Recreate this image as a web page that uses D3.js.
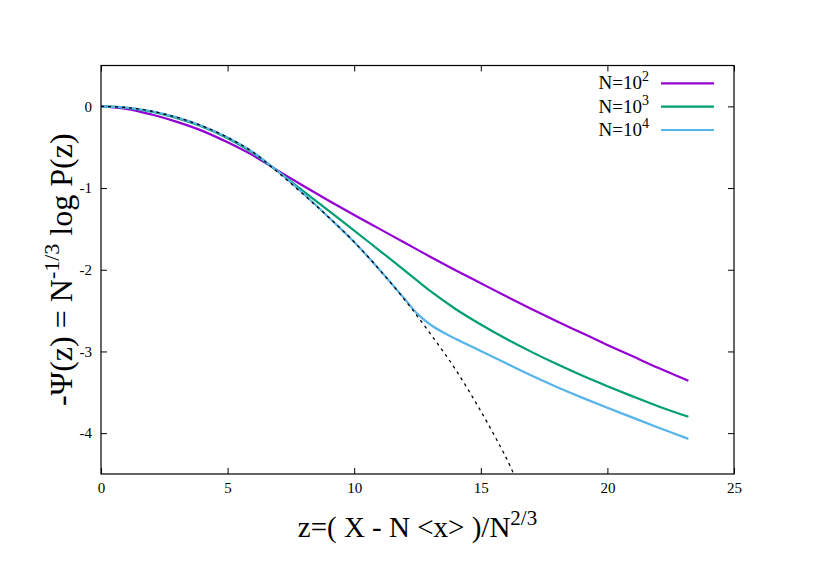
<!DOCTYPE html>
<html>
<head>
<meta charset="utf-8">
<script src="https://cdn.jsdelivr.net/npm/d3@7"></script>
<style>
  html, body { margin: 0; padding: 0; background: #fff; }
  svg { display: block; font-family: "Liberation Serif", "Times New Roman", serif; }
</style>
</head>
<body>
<svg id="chart" width="830" height="587"></svg>
<script>
// ---------- data ----------
const xTicks = [0, 5, 10, 15, 20, 25];
const yTicks = [0, -1, -2, -3, -4];

const zN2 = [0, 1, 2, 3, 4, 5, 6, 7, 8, 9, 10, 11, 12, 13, 14, 15, 16, 17, 18, 19, 20, 21, 22, 23.2];
const psiN2 = [0, -0.03, -0.10, -0.19, -0.30, -0.44, -0.60, -0.79, -0.975, -1.155, -1.33, -1.50, -1.67, -1.84, -2.005, -2.165, -2.325, -2.48, -2.63, -2.775, -2.92, -3.06, -3.20, -3.36];

const zN3 = [0, 1, 2, 3, 4, 5, 6, 7, 8, 9, 10, 11, 12, 13, 14, 15, 16, 17, 18, 19, 20, 21, 22, 23.2];
const psiN3 = [0, -0.017, -0.065, -0.145, -0.25, -0.39, -0.57, -0.80, -1.04, -1.28, -1.52, -1.765, -2.01, -2.26, -2.48, -2.67, -2.845, -3.005, -3.155, -3.295, -3.425, -3.55, -3.67, -3.80];

const zN4 = [0, 1, 2, 3, 4, 5, 6, 7, 8, 9, 10, 11, 12, 12.5, 13, 13.5, 14, 15, 16, 17, 18, 19, 20, 21, 22, 23.2];
const psiN4 = [0, -0.015, -0.06, -0.135, -0.24, -0.38, -0.56, -0.80, -1.07, -1.36, -1.66, -2.00, -2.36, -2.54, -2.67, -2.765, -2.845, -2.995, -3.145, -3.295, -3.435, -3.565, -3.69, -3.81, -3.93, -4.07];

const zTheory = [0, 1, 2, 3, 4, 5, 6, 7, 8, 9, 10, 11, 12, 13, 14, 15, 16, 16.3];
const psiTheory = [0, -0.015, -0.06, -0.135, -0.24, -0.38, -0.56, -0.81, -1.08, -1.36, -1.66, -2.00, -2.37, -2.78, -3.22, -3.73, -4.30, -4.50];

const legendBase = "N=10";
const legendExp = ["2", "3", "4"];

// ---------- styles / layout ----------
const colors = ["#9400d3", "#009e73", "#56b4e9"];
const L = 101, R = 734, T = 65.5, B = 474;

const svg = d3.select("#chart");
const x = d3.scaleLinear().domain([0, 25]).range([L, R]);
const y = d3.scaleLinear().domain([-4.5, 0.5]).range([B, T]);

function styleAxis(g) {
  g.select(".domain").remove();
  g.selectAll("line").attr("stroke", "#000").attr("stroke-width", 1);
  g.selectAll("text").attr("fill", "#000").style("font-size", "15px")
    .style("font-family", "'Liberation Serif', 'Times New Roman', serif");
}

// axes (ticks inward, mirrored)
svg.append("g").attr("transform", `translate(0,${B})`)
  .call(d3.axisBottom(x).tickValues(xTicks).tickSize(-6).tickSizeOuter(0).tickPadding(8).tickFormat(d3.format("d")))
  .call(styleAxis);
svg.append("g").attr("transform", `translate(0,${T})`)
  .call(d3.axisTop(x).tickValues(xTicks).tickSize(-6).tickSizeOuter(0).tickFormat(""))
  .call(styleAxis);
svg.append("g").attr("transform", `translate(${L},0)`)
  .call(d3.axisLeft(y).tickValues(yTicks).tickSize(-6).tickSizeOuter(0).tickPadding(9).tickFormat(d => d3.format("d")(d).replace("−", "-")))
  .call(styleAxis);
svg.append("g").attr("transform", `translate(${R},0)`)
  .call(d3.axisRight(y).tickValues(yTicks).tickSize(-6).tickSizeOuter(0).tickFormat(""))
  .call(styleAxis);

// clip
svg.append("clipPath").attr("id", "clip")
  .append("rect").attr("x", L).attr("y", T).attr("width", R - L).attr("height", B - T);

const line = d3.line().x(d => x(d[0])).y(d => y(d[1])).curve(d3.curveCatmullRom.alpha(0.5));
const plot = svg.append("g").attr("clip-path", "url(#clip)");

const series = [
  d3.zip(zN2, psiN2),
  d3.zip(zN3, psiN3),
  d3.zip(zN4, psiN4)
];
series.forEach((s, i) => {
  plot.append("path").datum(s).attr("d", line)
    .attr("fill", "none").attr("stroke", colors[i]).attr("stroke-width", 2.2)
    .attr("stroke-linejoin", "round");
});
plot.append("path").datum(d3.zip(zTheory, psiTheory)).attr("d", line)
  .attr("fill", "none").attr("stroke", "#000").attr("stroke-width", 1.3)
  .attr("stroke-dasharray", "3,4");

// frame
svg.append("rect").attr("x", L).attr("y", T).attr("width", R - L).attr("height", B - T)
  .attr("fill", "none").attr("stroke", "#000").attr("stroke-width", 1.2);

// legend
const legY = [83.3, 106.7, 130];
legendExp.forEach((e, i) => {
  const t = svg.append("text").attr("x", 649).attr("y", legY[i] + 6)
    .attr("text-anchor", "end").style("font-size", "19px").attr("fill", "#000");
  t.append("tspan").text(legendBase);
  t.append("tspan").attr("dy", -8).style("font-size", "14px").text(e);
  svg.append("line").attr("x1", 661).attr("x2", 714).attr("y1", legY[i]).attr("y2", legY[i])
    .attr("stroke", colors[i]).attr("stroke-width", 2.2);
});

// x label
const xl = svg.append("text").attr("x", (L + R) / 2).attr("y", 537)
  .attr("text-anchor", "middle").style("font-size", "29px").attr("fill", "#000");
xl.append("tspan").text("z=( X - N <x> )/N");
xl.append("tspan").attr("dy", -12).style("font-size", "21px").text("2/3");

// y label
const yl = svg.append("text").attr("transform", `translate(72,${(T + B) / 2}) rotate(-90)`)
  .attr("text-anchor", "middle").style("font-size", "32px").attr("fill", "#000");
yl.append("tspan").text("-Ψ(z) = N");
yl.append("tspan").attr("dy", -13).style("font-size", "22px").text("-1/3");
yl.append("tspan").attr("dy", 13).text(" log P(z)");
</script>
</body>
</html>
